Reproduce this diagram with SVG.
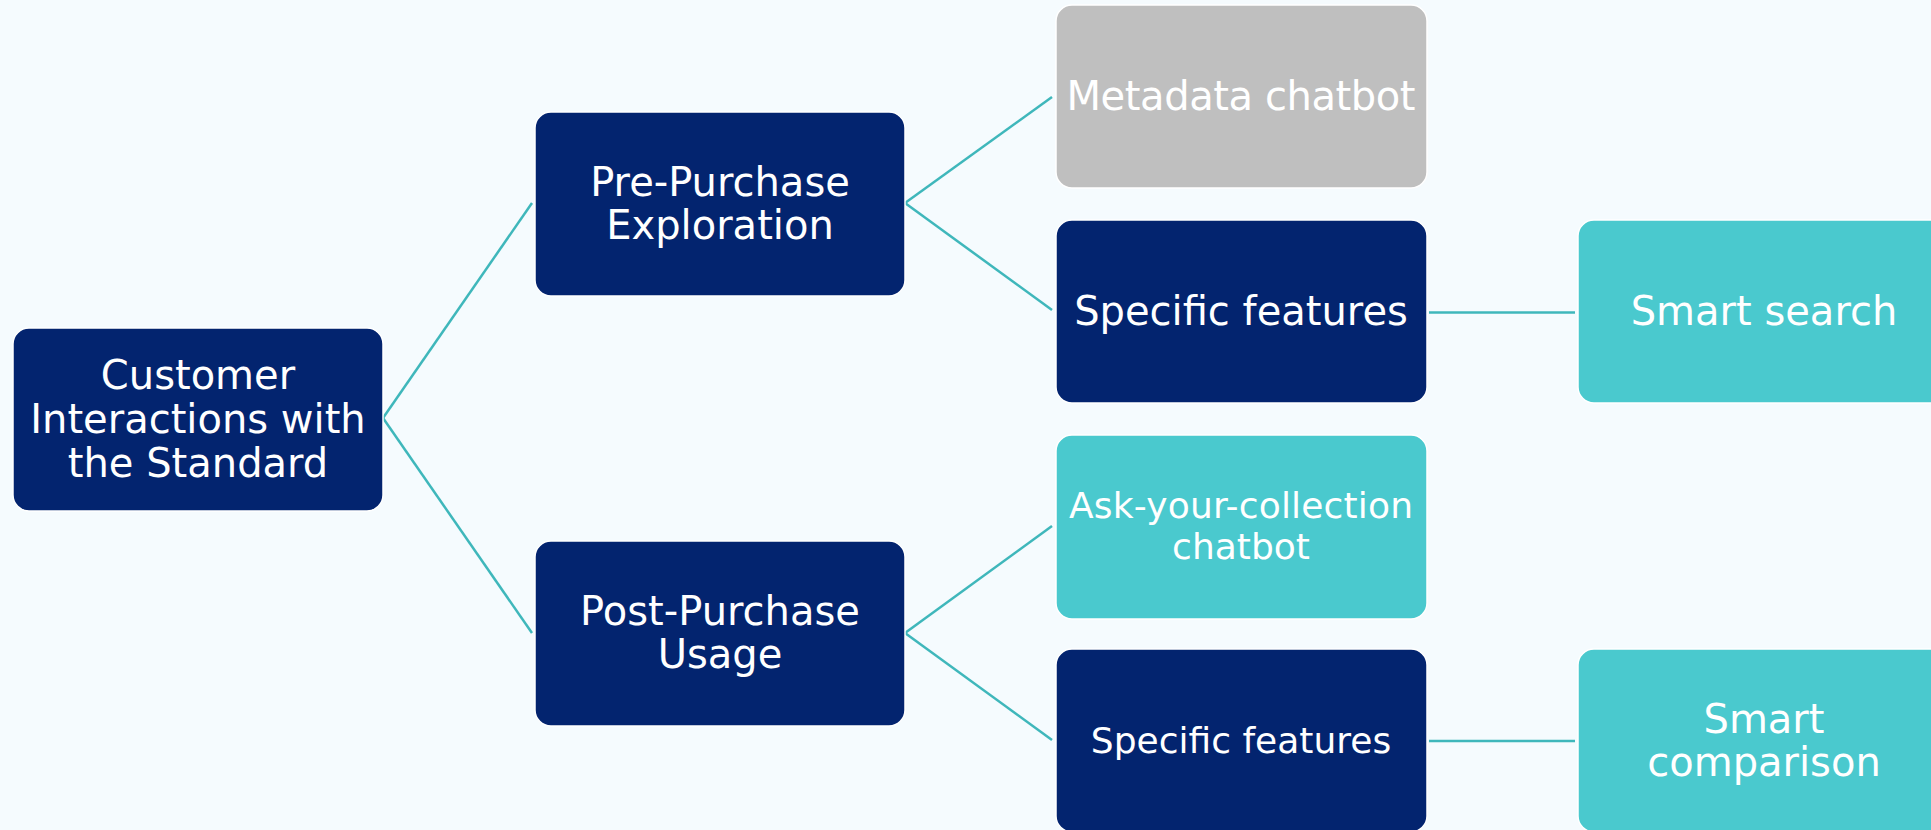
<svg xmlns="http://www.w3.org/2000/svg" width="1931" height="830" viewBox="0 0 1931 830">
<style>
.bg{fill:#F5FBFE}
.box{stroke:#FFFFFF;stroke-width:1.5}
.navy{fill:#03246F}
.teal{fill:#4AC9CE}
.gray{fill:#BFBFBF}
.t{font-family:"DejaVu Sans","Verdana",sans-serif;fill:#FFFFFF;text-anchor:middle;font-size:40px}
.s{font-size:36px}
.c{stroke:#3FB7BB;stroke-width:2.5;fill:none}
</style>
<rect class="bg" x="0" y="0" width="1931" height="830"/>
<g id="connectors">
<line class="c" x1="383" y1="418" x2="532" y2="203"/>
<line class="c" x1="383" y1="418" x2="532" y2="633"/>
<line class="c" x1="905" y1="203" x2="1052" y2="97"/>
<line class="c" x1="905" y1="203" x2="1052" y2="310"/>
<line class="c" x1="1429" y1="312.5" x2="1575" y2="312.5"/>
<line class="c" x1="905" y1="633" x2="1052" y2="526"/>
<line class="c" x1="905" y1="633" x2="1052" y2="740"/>
<line class="c" x1="1429" y1="741" x2="1575" y2="741"/>
</g>
<g id="root">
<rect class="box navy" x="13" y="328" width="370" height="183" rx="16"/>
<text class="t" x="198" y="389">Customer</text>
<text class="t" x="198" y="433">Interactions with</text>
<text class="t" x="198" y="477">the Standard</text>
</g>
<g id="pre-purchase">
<rect class="box navy" x="535" y="112" width="370" height="184" rx="16"/>
<text class="t" x="720" y="196">Pre-Purchase</text>
<text class="t" x="720" y="239">Exploration</text>
</g>
<g id="post-purchase">
<rect class="box navy" x="535" y="541" width="370" height="185" rx="16"/>
<text class="t" x="720" y="625">Post-Purchase</text>
<text class="t" x="720" y="668">Usage</text>
</g>
<g id="metadata-chatbot">
<rect class="box gray" x="1056" y="5" width="371" height="183" rx="16"/>
<text class="t" x="1241" y="110" textLength="349">Metadata chatbot</text>
</g>
<g id="specific-features-1">
<rect class="box navy" x="1056" y="220" width="371" height="183" rx="16"/>
<text class="t" x="1241" y="325">Specific features</text>
</g>
<g id="smart-search">
<rect class="box teal" x="1578" y="220" width="371" height="183" rx="16"/>
<text class="t" x="1764" y="325">Smart search</text>
</g>
<g id="ask-your-collection">
<rect class="box teal" x="1056" y="435" width="371" height="184" rx="16"/>
<text class="t s" x="1241" y="518" textLength="344">Ask-your-collection</text>
<text class="t s" x="1241" y="559">chatbot</text>
</g>
<g id="specific-features-2">
<rect class="box navy" x="1056" y="649" width="371" height="183" rx="16"/>
<text class="t s" x="1241" y="753">Specific features</text>
</g>
<g id="smart-comparison">
<rect class="box teal" x="1578" y="649" width="371" height="183" rx="16"/>
<text class="t" x="1764" y="733">Smart</text>
<text class="t" x="1764" y="776">comparison</text>
</g>
</svg>
